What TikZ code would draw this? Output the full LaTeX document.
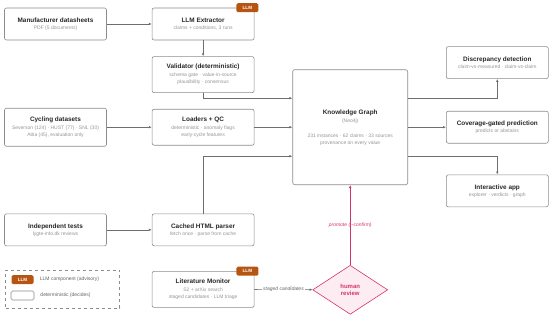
\documentclass[tikz,border=0pt]{standalone}
\usepackage{fontspec}
\setmainfont{Liberation Sans}
\usetikzlibrary{arrows.meta,calc,positioning,shapes.geometric}

\definecolor{boxgray}{RGB}{140,140,140}
\definecolor{linegray}{RGB}{110,110,110}
\definecolor{titlegray}{RGB}{40,40,40}
\definecolor{subgray}{RGB}{150,150,150}
\definecolor{keygray}{RGB}{100,100,100}
\definecolor{llmorange}{RGB}{182,84,18}
\definecolor{pinkline}{RGB}{214,51,108}
\definecolor{pinkfill}{RGB}{253,237,243}

\newcommand{\boxtitle}[1]{{\fontsize{6.4}{8}\selectfont\bfseries\color{titlegray}#1}}
\newcommand{\boxsub}[1]{{\color{subgray}#1}}

\begin{document}
\begin{tikzpicture}[
    x=1pt, y=-1pt,
    font=\fontsize{5}{7}\selectfont,
    >={Latex[length=3pt,width=2.6pt]},
    box/.style={
        draw=boxgray,
        fill=white,
        rounded corners=2pt,
        minimum height=32pt,
        minimum width=102pt,
        align=center,
        inner sep=2pt,
        line width=0.6pt
    },
    badge/.style={
        fill=llmorange,
        text=white,
        font=\fontsize{4.6}{5}\selectfont\bfseries,
        rounded corners=1.5pt,
        minimum width=22pt,
        minimum height=9pt,
        inner sep=0pt
    },
    review/.style={
        diamond,
        draw=pinkline,
        fill=pinkfill,
        text=pinkline,
        font=\fontsize{6}{7.5}\selectfont\bfseries,
        align=center,
        minimum width=75pt,
        minimum height=49pt,
        inner sep=0pt,
        line width=0.6pt
    },
    legendbox/.style={draw=boxgray, dashed, minimum width=114pt, minimum height=38pt, line width=0.6pt},
    keybox/.style={draw=boxgray, fill=white, rounded corners=1.5pt, minimum width=23pt, minimum height=9pt, inner sep=0pt, line width=0.6pt},
    keytext/.style={text=keygray, anchor=west, inner sep=0pt},
    flow/.style={->, line width=0.6pt, draw=linegray},
    edgelabel/.style={fill=white, text=keygray, font=\fontsize{5}{6}\selectfont\itshape, inner sep=1pt}
]
\useasboundingbox (0,0) rectangle (550,316);

% sources and ingestion
\node[box] (manual) at (55.5,24) {\boxtitle{Manufacturer datasheets}\\\boxsub{PDF (5 documents)}};
\node[box, right=45pt of manual] (extractor) {\boxtitle{LLM Extractor}\\\boxsub{claims + conditions, 3 runs}};
\node[box, below=16pt of extractor, minimum height=36pt] (validator) {\boxtitle{Validator (deterministic)}\\[1pt]\boxsub{schema gate · value-in-source}\\\boxsub{plausibility · consensus}};
\node[box, below=16pt of validator, minimum height=36pt] (loaders) {\boxtitle{Loaders + QC}\\[1pt]\boxsub{deterministic · anomaly flags}\\\boxsub{early-cycle features}};
\node[box, left=45pt of loaders, minimum height=38pt] (cycling) {\boxtitle{Cycling datasets}\\[1pt]\boxsub{Severson (124) · HUST (77) · SNL (30)}\\\boxsub{Attia (45), evaluation only}};
\node[box, below=68pt of loaders] (parser) {\boxtitle{Cached HTML parser}\\\boxsub{fetch once · parse from cache}};
\node[box, left=45pt of parser] (indep) {\boxtitle{Independent tests}\\\boxsub{lygte-info.dk reviews}};
\node[box, below=25pt of parser, minimum height=36pt] (monitor) {\boxtitle{Literature Monitor}\\[1pt]\boxsub{S2 + arXiv search}\\\boxsub{staged candidates · LLM triage}};

\node[badge] (extractortag) at ([xshift=-7pt]extractor.north east) {LLM};
\node[badge] (monitortag) at ([xshift=-7pt]monitor.north east) {LLM};

% graph and consumers
\node[box, right=38pt of loaders, minimum width=115pt, minimum height=115pt] (graph) {\boxtitle{Knowledge Graph}\\[1pt]\boxsub{(Neo4j)}\\[8pt]\boxsub{231 instances · 62 claims · 33 sources}\\\boxsub{provenance on every value}};
\node[box, right=38pt of graph] (coverage) {\boxtitle{Coverage-gated prediction}\\\boxsub{predicts or abstains}};
\node[box, above=32pt of coverage] (discrepancy) {\boxtitle{Discrepancy detection}\\\boxsub{claim-vs-measured · claim-vs-claim}};
\node[box, below=31pt of coverage] (app) {\boxtitle{Interactive app}\\\boxsub{explorer · verdicts · graph}};
\node[review, below=80pt of graph] (review) {human\\review};

\coordinate (kgin1) at ($(graph.west)+(0,-29)$);
\coordinate (kgin3) at ($(graph.west)+(0,29)$);
\coordinate (kgout1) at ($(graph.east)+(0,-29)$);
\coordinate (kgout3) at ($(graph.east)+(0,29)$);

\draw[flow] (manual) -- (extractor);
\draw[flow] (extractor) -- (validator);
\draw[flow] (cycling) -- (loaders);
\draw[flow] (indep) -- (parser);
\draw[flow] (validator.south) |- (kgin1);
\draw[flow] (loaders) -- (graph);
\draw[flow] (parser.north) |- (kgin3);
\draw[flow] (kgout1) -| (discrepancy.south);
\draw[flow] (graph) -- (coverage);
\draw[flow] (kgout3) -| (app.north);
\draw[flow] (monitor) -- node[edgelabel] {staged candidates} (review);
\draw[flow, draw=pinkline] (review) -- node[text=pinkline, font=\fontsize{5}{6}\selectfont\itshape] {promote (-{}-confirm)} (graph);

% legend
\node[legendbox, left=32pt of monitor] (legend) {};
\node[badge] (keyllm) at (22.5,279.5) {LLM};
\node[keybox] (keydet) at (22.5,295.5) {};
\node[keytext, right=6pt of keyllm] (keyllmtext) {LLM component (advisory)};
\node[keytext, right=6pt of keydet] (keydettext) {deterministic (decides)};

\end{tikzpicture}
\end{document}
